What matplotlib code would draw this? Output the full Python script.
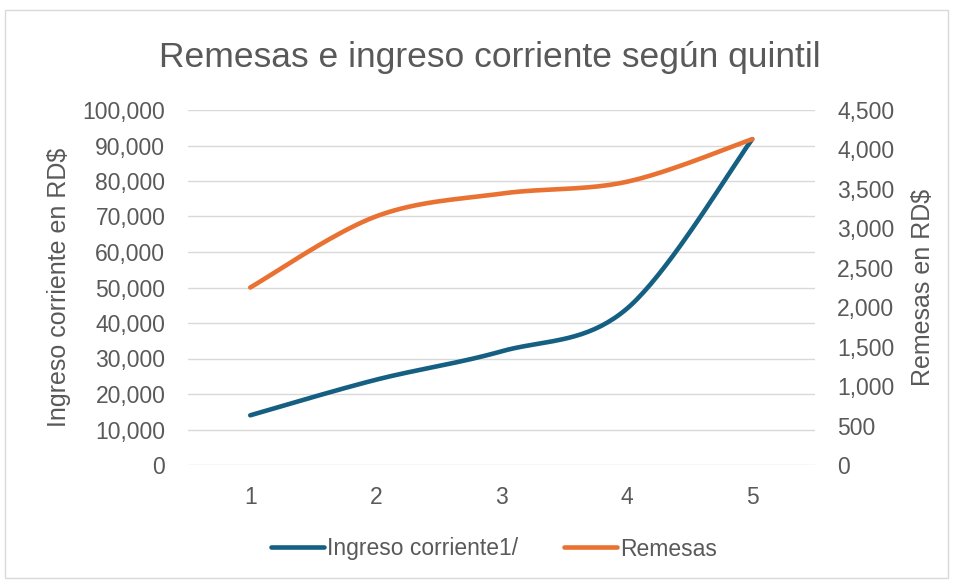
import numpy as np
import matplotlib
matplotlib.use("Agg")
import matplotlib.pyplot as plt
from matplotlib.patches import Rectangle
from matplotlib.ticker import FuncFormatter, MultipleLocator

quintiles = [1, 2, 3, 4, 5]
ingreso = [14000, 24000, 32000, 44000, 91800]
remesas = [2250, 3150, 3440, 3590, 4130]

title = "Remesas e ingreso corriente según quintil"
left_label = "Ingreso corriente en RD$"
right_label = "Remesas en RD$"
series_names = ["Ingreso corriente1/", "Remesas"]

BLUE = "#156082"
ORANGE = "#E97132"
GRAY = "#595959"

plt.rcParams['font.family'] = ['Liberation Sans', 'DejaVu Sans']


def smooth(xs, ys, n=40):
    # Excel-like smoothed line (Catmull-Rom style Bezier)
    xs = np.asarray(xs, float)
    ys = np.asarray(ys, float)
    px = np.concatenate([[xs[0]], xs, [xs[-1]]])
    py = np.concatenate([[ys[0]], ys, [ys[-1]]])
    outx, outy = [], []
    for i in range(1, len(px) - 2):
        p0 = np.array([px[i - 1], py[i - 1]])
        p1 = np.array([px[i], py[i]])
        p2 = np.array([px[i + 1], py[i + 1]])
        p3 = np.array([px[i + 2], py[i + 2]])
        c1 = p1 + (p2 - p0) / 6.0
        c2 = p2 - (p3 - p1) / 6.0
        t = np.linspace(0, 1, n)[:, None]
        b = ((1 - t) ** 3) * p1 + 3 * ((1 - t) ** 2) * t * c1 + 3 * (1 - t) * t ** 2 * c2 + t ** 3 * p2
        outx.extend(b[:, 0])
        outy.extend(b[:, 1])
    return np.array(outx), np.array(outy)


W, H = 954, 581
fig = plt.figure(figsize=(W / 100, H / 100), dpi=100)

# outer chart border
fig.patches.append(Rectangle((5 / W, 3 / H), 943 / W, (H - 13) / H, transform=fig.transFigure,
                             fill=False, edgecolor="#D9D9D9", linewidth=1.0))

left, right, top, bottom = 187.5, 815, 110, 465
ax = fig.add_axes([left / W, 1 - bottom / H, (right - left) / W, (bottom - top) / H])
ax2 = ax.twinx()

ax.set_xlim(0.5, 5.5)
ax.set_ylim(0, 100000)
ax2.set_ylim(0, 4500)
ax.yaxis.set_major_locator(MultipleLocator(10000))
ax2.yaxis.set_major_locator(MultipleLocator(500))
fmt = FuncFormatter(lambda v, p: f"{int(round(v)):,}")
ax.yaxis.set_major_formatter(fmt)
ax2.yaxis.set_major_formatter(fmt)
ax.set_xticks(quintiles)
ax.set_xticklabels([str(q) for q in quintiles])

ax.grid(axis='y', color="#D9D9D9", linewidth=1.0)
ax.set_axisbelow(True)
for a in (ax, ax2):
    for s in a.spines.values():
        s.set_visible(False)
    a.tick_params(length=0, colors=GRAY, labelsize=16.5)
ax.tick_params(axis='y', pad=16)
ax2.tick_params(axis='y', pad=16)
ax.tick_params(axis='x', pad=15)

sx, sy = smooth(quintiles, ingreso)
l1, = ax.plot(sx, sy, color=BLUE, linewidth=3.3, solid_capstyle='round', label=series_names[0])
sx2, sy2 = smooth(quintiles, remesas)
l2, = ax2.plot(sx2, sy2, color=ORANGE, linewidth=3.3, solid_capstyle='round', label=series_names[1])

ax.set_ylabel(left_label, color=GRAY, fontsize=18, labelpad=8)
ax2.set_ylabel(right_label, color=GRAY, fontsize=18, labelpad=12)

fig.text(490 / W, 1 - 57 / H, title, ha='center', va='center', color=GRAY, fontsize=25.5)

fig.legend([l1, l2], series_names, loc='center', bbox_to_anchor=(494 / W, 1 - 549 / H),
           ncol=2, frameon=False, fontsize=16.5, labelcolor=GRAY, handlelength=2.3,
           handletextpad=0.15, columnspacing=2.0)

fig.savefig("out.png", dpi=100)
